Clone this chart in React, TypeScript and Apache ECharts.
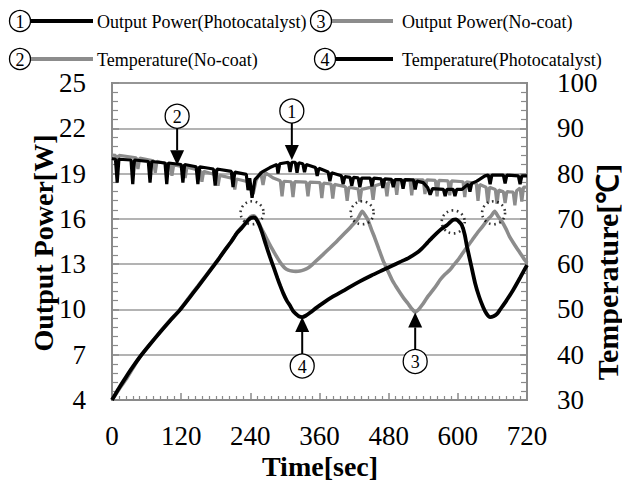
import React, { useEffect, useRef } from "react";
import * as echarts from "echarts";

// ---------- data ----------
const xTicks = [0, 120, 240, 360, 480, 600, 720];
const powerTicks = [4, 7, 10, 13, 16, 19, 22, 25];
const tempTicks = [30, 40, 50, 60, 70, 80, 90, 100];

const seriesNames = [
  "Output Power(Photocatalyst)",
  "Output Power(No-coat)",
  "Temperature(No-coat)",
  "Temperature(Photocatalyst)",
];

// ① Output Power(Photocatalyst) — upper black trace, left axis [W]
const powerPhoto: [number, number][] = [
  [0, 20.0], [6, 19.95], [9, 18.4], [12, 19.95],
  [33, 19.9], [36, 18.3], [39, 19.9],
  [63, 19.8], [66, 18.4], [69, 19.8],
  [92, 19.7], [95, 18.3], [98, 19.7],
  [120, 19.6], [123, 18.4], [126, 19.6],
  [146, 19.45], [149, 18.3], [152, 19.45],
  [176, 19.3], [179, 18.2], [182, 19.3],
  [207, 19.15], [210, 18.1], [213, 19.1],
  [233, 18.95], [236, 17.9], [239, 18.7], [243, 17.4], [248, 18.6],
  [260, 19.1], [274, 19.4], [286, 19.6], [288, 19.0], [291, 19.65],
  [306, 19.75], [309, 19.1], [312, 19.75], [318, 19.75], [321, 19.05], [324, 19.72],
  [331, 19.65], [334, 19.1], [337, 19.6], [353, 19.4], [356, 18.85], [359, 19.35],
  [375, 19.1], [378, 18.5], [381, 19.05], [398, 18.85], [401, 18.3], [404, 18.8],
  [413, 18.75], [416, 18.2], [419, 18.75], [427, 18.72], [430, 18.1], [433, 18.7],
  [448, 18.7], [451, 18.15], [454, 18.7], [467, 18.65], [470, 18.05], [473, 18.65],
  [485, 18.62], [488, 18.1], [491, 18.6], [502, 18.6], [505, 18.0], [508, 18.6],
  [523, 18.58], [526, 17.95], [529, 18.5], [540, 18.4], [548, 18.05], [552, 17.6], [556, 18.0],
  [575, 17.95], [578, 17.5], [581, 17.95], [592, 17.95], [595, 17.5], [598, 17.95],
  [607, 17.95], [618, 18.3], [621, 17.8], [624, 18.35], [633, 18.5], [647, 18.85],
  [653, 18.9], [656, 18.3], [659, 18.9], [679, 18.9], [682, 18.35], [685, 18.9],
  [705, 18.85], [708, 18.3], [711, 18.85], [720, 18.85],
];

// ③ Output Power(No-coat) — lower grey trace, left axis [W]
const powerNoCoat: [number, number][] = [
  [0, 4.0], [12, 4.7], [24, 5.35], [36, 6.1], [49, 6.9], [66, 7.7], [83, 8.5], [100, 9.25],
  [118, 10.0], [134, 10.8], [149, 11.55], [162, 12.2], [175, 12.85], [186, 13.4], [196, 13.95],
  [207, 14.5], [217, 15.1], [225, 15.45], [231, 15.7], [236, 15.95], [241, 16.15], [246, 16.2],
  [250, 16.05], [255, 15.7], [260, 15.3], [267, 14.8], [274, 14.27], [281, 13.8], [288, 13.35],
  [294, 13.0], [300, 12.74], [306, 12.6], [312, 12.54], [319, 12.52], [326, 12.54], [333, 12.62],
  [340, 12.74], [346, 12.92], [352, 13.14], [365, 13.6], [378, 14.07], [391, 14.55], [404, 15.06],
  [415, 15.5], [425, 15.92], [430, 16.25], [434, 16.5], [439, 16.25], [444, 15.92], [450, 15.3],
  [456, 14.73], [463, 14.0], [470, 13.27], [478, 12.6], [486, 11.95], [493, 11.5], [500, 11.09],
  [507, 10.7], [514, 10.36], [520, 10.05], [526, 9.83], [532, 10.0], [538, 10.29], [547, 10.8],
  [557, 11.29], [563, 11.6], [569, 11.95], [577, 12.3], [586, 12.61], [593, 12.95], [600, 13.27],
  [608, 13.7], [616, 14.13], [625, 14.6], [635, 15.13], [643, 15.5], [651, 15.92], [658, 16.2],
  [664, 16.5], [670, 16.15], [677, 15.79], [684, 15.3], [690, 14.8], [699, 14.25], [708, 13.74],
  [714, 13.4], [720, 13.08],
];

// ② Temperature(No-coat) — upper grey trace, right axis [°C]
const tempNoCoat: [number, number][] = [
  [0, 84.1], [6, 84.0], [9, 81.5], [12, 84.0],
  [42, 83.5], [45, 81.0], [48, 83.4],
  [72, 82.8], [75, 80.2], [78, 82.7],
  [101, 82.0], [104, 79.5], [107, 81.9],
  [124, 81.5], [127, 79.0], [130, 81.4],
  [153, 80.7], [156, 78.2], [159, 80.5],
  [181, 79.7], [184, 77.3], [187, 79.6],
  [210, 78.9], [213, 76.5], [216, 78.8],
  [236, 78.2], [240, 77.5], [245, 75.5], [250, 78.5],
  [258, 80.3], [262, 77.5], [266, 80.2],
  [280, 79.0], [292, 78.4], [295, 75.0], [298, 78.3],
  [311, 78.2], [314, 74.8], [317, 78.2],
  [337, 78.1], [340, 75.0], [343, 78.1],
  [361, 78.0], [364, 74.6], [367, 77.9],
  [380, 77.7], [383, 74.5], [386, 77.6],
  [405, 77.1], [408, 74.0], [411, 77.0],
  [427, 76.6], [430, 73.8], [433, 76.5],
  [450, 77.0], [453, 74.2], [456, 77.3],
  [474, 78.0], [477, 75.0], [480, 78.1],
  [491, 78.4], [494, 75.3], [497, 78.5],
  [517, 78.6], [520, 75.2], [523, 78.6],
  [540, 78.6], [543, 75.5], [546, 78.6],
  [561, 78.5], [564, 75.0], [567, 78.5],
  [583, 78.4], [586, 75.2], [589, 78.4],
  [609, 78.2], [612, 74.8], [615, 78.2],
  [632, 77.8], [635, 74.0], [638, 77.6],
  [649, 77.0], [652, 73.6], [655, 77.0],
  [665, 76.5], [668, 73.3], [671, 76.4],
  [679, 76.0], [682, 73.5], [685, 76.0],
  [696, 75.9], [699, 73.0], [702, 76.2],
  [708, 76.8], [711, 73.8], [714, 77.0], [720, 77.0],
];

// ④ Temperature(Photocatalyst) — lower black trace, right axis [°C]
const tempPhoto: [number, number][] = [
  [0, 30.0], [12, 32.6], [24, 35.0], [36, 37.3], [49, 39.6], [66, 42.3], [83, 44.9], [100, 47.4],
  [118, 49.9], [134, 52.5], [149, 55.0], [162, 57.2], [175, 59.4], [186, 61.3], [196, 63.1],
  [207, 65.0], [217, 66.9], [225, 68.0], [231, 68.9], [236, 69.7], [241, 70.2], [246, 70.3],
  [250, 70.0], [255, 68.8], [260, 67.1], [267, 64.3], [274, 61.6], [281, 59.1], [287, 56.9],
  [292, 55.2], [297, 53.6], [303, 52.0], [309, 50.8], [314, 49.7], [319, 49.0], [324, 48.5],
  [330, 48.3], [336, 48.6], [344, 49.3], [355, 50.4], [366, 51.4], [383, 52.8], [401, 54.1],
  [413, 55.0], [430, 56.2], [450, 57.5], [470, 58.7], [485, 59.6], [500, 60.5], [515, 61.4],
  [529, 62.5], [538, 63.5], [547, 64.7], [556, 65.9], [564, 66.9], [572, 67.8], [581, 68.6],
  [587, 69.3], [592, 69.8], [597, 69.9], [602, 69.4], [607, 68.6], [612, 66.5], [616, 63.8],
  [623, 59.8], [630, 55.8], [637, 52.8], [644, 50.5], [650, 49.0], [656, 48.3], [662, 48.5],
  [668, 49.0], [673, 49.9], [684, 51.9], [696, 54.3], [708, 57.0], [720, 59.8],
];

// dotted-circle highlights on peaks (left axis units)
const peakMarks: [number, number][] = [
  [243, 16.4], [434, 16.4], [592, 15.8], [662, 16.4],
];

// numbered arrow call-outs: number, point (time, power on left axis), arrow direction
const calloutNums = ["1", "2", "3", "4"];
const calloutPoints: [number, number][] = [
  [312, 19.9],
  [113, 19.55],
  [526, 9.8],
  [330, 9.5],
];
const calloutDown = [true, true, false, false];

// ---------- styles ----------
const FONT = "'Liberation Serif', 'Times New Roman', serif";
const BLACK = "#000000";
const GREY = "#8c8c8c";
const AXIS_GREY = "#8a8a8a";

function circledNum(cx: number, cy: number, r: number, n: string, fs: number) {
  return [
    {
      type: "circle",
      shape: { cx, cy, r },
      style: { fill: "#fff", stroke: "#000", lineWidth: 1.3 },
      z: 100,
    },
    {
      type: "text",
      x: cx,
      y: cy + 1,
      style: {
        text: n,
        fontFamily: FONT,
        fontSize: fs,
        fill: "#000",
        align: "center",
        verticalAlign: "middle",
      },
      z: 101,
    },
  ];
}

function legendItem(cx: number, cy: number, n: string, x1: number, x2: number, color: string, tx: number, label: string) {
  return [
    ...circledNum(cx, cy, 10.5, n, 18),
    {
      type: "line",
      shape: { x1, y1: cy, x2, y2: cy },
      style: { stroke: color, lineWidth: 4 },
      z: 100,
    },
    {
      type: "text",
      x: tx,
      y: cy + 1,
      style: {
        text: label,
        fontFamily: FONT,
        fontSize: 18,
        fill: "#000",
        align: "left",
        verticalAlign: "middle",
      },
      z: 100,
    },
  ];
}

export default function App() {
  const ref = useRef<HTMLDivElement>(null);

  useEffect(() => {
    if (!ref.current) return;
    const chart = echarts.init(ref.current, null, { renderer: "svg" });

    const tickLabel = { fontFamily: FONT, fontSize: 27, color: "#000" };

    const option: any = {
      animation: false,
      backgroundColor: "#fff",
      grid: {
        left: 112,
        right: 95,
        top: 83,
        bottom: 81,
        show: true,
        borderColor: AXIS_GREY,
        borderWidth: 2,
      },
      xAxis: {
        type: "value",
        min: xTicks[0],
        max: xTicks[xTicks.length - 1],
        interval: 120,
        axisLine: { show: true, lineStyle: { color: AXIS_GREY, width: 2 } },
        axisTick: { show: true, inside: true, length: 7, lineStyle: { color: AXIS_GREY, width: 1.5 } },
        minorTick: { show: true, splitNumber: 10, length: 4, lineStyle: { color: AXIS_GREY, width: 1.2 } },
        splitLine: { show: false },
        axisLabel: { ...tickLabel, margin: 22 },
      },
      yAxis: [
        {
          type: "value",
          min: powerTicks[0],
          max: powerTicks[powerTicks.length - 1],
          interval: 3,
          axisLine: { show: true, lineStyle: { color: AXIS_GREY, width: 2 } },
          axisTick: { show: true, inside: true, length: 7, lineStyle: { color: AXIS_GREY, width: 1.5 } },
          minorTick: { show: true, splitNumber: 5, length: 6, lineStyle: { color: AXIS_GREY, width: 1.2 } },
          splitLine: { show: true, lineStyle: { color: "#9a9a9a", width: 1.6 } },
          axisLabel: { ...tickLabel, margin: 26 },
        },
        {
          type: "value",
          min: tempTicks[0],
          max: tempTicks[tempTicks.length - 1],
          interval: 10,
          position: "right",
          axisLine: { show: true, lineStyle: { color: AXIS_GREY, width: 2 } },
          axisTick: { show: true, inside: true, length: 7, lineStyle: { color: AXIS_GREY, width: 1.5 } },
          minorTick: { show: true, splitNumber: 5, length: 6, lineStyle: { color: AXIS_GREY, width: 1.2 } },
          splitLine: { show: false },
          axisLabel: { ...tickLabel, margin: 30 },
        },
      ],
      series: [
        {
          name: seriesNames[2],
          type: "line",
          yAxisIndex: 1,
          data: tempNoCoat,
          showSymbol: false,
          lineStyle: { color: GREY, width: 3.2 },
          z: 2,
        },
        {
          name: seriesNames[0],
          type: "line",
          yAxisIndex: 0,
          data: powerPhoto,
          showSymbol: false,
          lineStyle: { color: BLACK, width: 3.2 },
          z: 3,
        },
        {
          name: seriesNames[1],
          type: "line",
          yAxisIndex: 0,
          data: powerNoCoat,
          showSymbol: false,
          smooth: 0.2,
          lineStyle: { color: GREY, width: 3.6 },
          z: 4,
        },
        {
          name: seriesNames[3],
          type: "line",
          yAxisIndex: 1,
          data: tempPhoto,
          showSymbol: false,
          smooth: 0.2,
          lineStyle: { color: BLACK, width: 3.8 },
          z: 5,
        },
        {
          name: "peaks",
          type: "scatter",
          yAxisIndex: 0,
          data: peakMarks,
          symbol: "circle",
          symbolSize: 23,
          silent: true,
          itemStyle: {
            color: "rgba(0,0,0,0)",
            borderColor: "#000",
            borderWidth: 2.6,
            borderType: [1.6, 3.6],
          },
          z: 6,
        },
      ],
    };

    chart.setOption(option);

    const graphics: any[] = [];
    // legend (two rows)
    graphics.push(...legendItem(20, 21, "1", 31, 93, BLACK, 97, seriesNames[0]));
    graphics.push(...legendItem(321, 21, "3", 332, 393, GREY, 402, seriesNames[1]));
    graphics.push(...legendItem(20, 59, "2", 31, 93, GREY, 97, seriesNames[2]));
    graphics.push(...legendItem(325, 59, "4", 336, 393, BLACK, 402, seriesNames[3]));

    // call-out arrows
    calloutPoints.forEach((p, i) => {
      const [x, y] = chart.convertToPixel({ xAxisIndex: 0, yAxisIndex: 0 }, p) as number[];
      const down = calloutDown[i];
      const dir = down ? -1 : 1;
      const cy = y + dir * 49;
      const r = 12;
      const baseY = y + dir * 15;
      graphics.push({
        type: "line",
        shape: { x1: x, y1: cy - dir * r, x2: x, y2: baseY },
        style: { stroke: "#000", lineWidth: 2 },
        z: 100,
      });
      graphics.push({
        type: "polygon",
        shape: { points: [[x, y], [x - 7, baseY], [x + 7, baseY]] },
        style: { fill: "#000" },
        z: 100,
      });
      graphics.push(...circledNum(x, cy, r, calloutNums[i], 18));
    });

    // axis titles
    graphics.push({
      type: "text",
      x: 43,
      y: 243,
      rotation: Math.PI / 2,
      style: {
        text: "Output Power[W]",
        fontFamily: FONT,
        fontWeight: "bold",
        fontSize: 28,
        fill: "#000",
        align: "center",
        verticalAlign: "middle",
      },
    });
    graphics.push({
      type: "text",
      x: 607,
      y: 272,
      rotation: Math.PI / 2,
      style: {
        text: "Temperature[℃]",
        fontFamily: FONT,
        fontWeight: "bold",
        fontSize: 30,
        fill: "#000",
        align: "center",
        verticalAlign: "middle",
      },
    });
    graphics.push({
      type: "text",
      x: 320,
      y: 466,
      style: {
        text: "Time[sec]",
        fontFamily: FONT,
        fontWeight: "bold",
        fontSize: 28,
        fill: "#000",
        align: "center",
        verticalAlign: "middle",
      },
    });

    chart.setOption({ graphic: graphics });

    return () => chart.dispose();
  }, []);

  return (
    <div
      ref={ref}
      style={{ position: "fixed", left: 0, top: 0, width: 622, height: 481, background: "#fff" }}
    />
  );
}
